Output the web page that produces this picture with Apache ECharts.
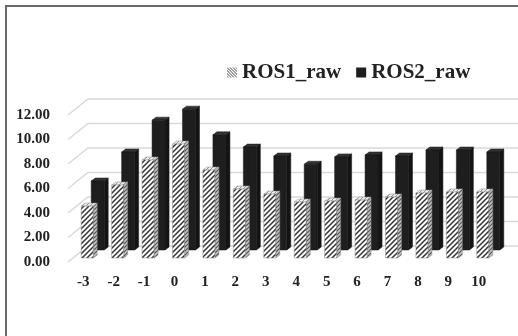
<!DOCTYPE html>
<html>
<head>
<meta charset="utf-8">
<script src="https://cdn.jsdelivr.net/npm/echarts@6/dist/echarts.min.js"></script>
<style>
  html, body { margin: 0; padding: 0; background: #fff; }
  #chart { width: 518px; height: 336px; }
</style>
</head>
<body>
<div id="chart"></div>
<script>
// Data
const categories = ['-3', '-2', '-1', '0', '1', '2', '3', '4', '5', '6', '7', '8', '9', '10'];
const ros1Raw = [4.24, 5.96, 8.0, 9.3, 7.18, 5.63, 5.22, 4.57, 4.65, 4.73, 4.98, 5.3, 5.39, 5.39];
const ros2Raw = [5.63, 8.0, 10.6, 11.5, 9.4, 8.4, 7.67, 7.0, 7.6, 7.76, 7.67, 8.16, 8.16, 8.0];
const yTicks = [0, 2, 4, 6, 8, 10, 12];

// Oblique depth of the plot box (back wall offset from the front edge)
const WALL_DX = 20, WALL_DY = -16;
const FONT = '"Liberation Serif", "Times New Roman", serif';

// Diagonal hatch tile
function hatch(dir, bg, fg, size, lw) {
  const c = document.createElement('canvas');
  c.width = size; c.height = size;
  const g = c.getContext('2d');
  g.fillStyle = bg; g.fillRect(0, 0, size, size);
  g.strokeStyle = fg; g.lineWidth = lw;
  g.beginPath();
  if (dir === '/') {
    g.moveTo(-1, size + 1); g.lineTo(size + 1, -1);
    g.moveTo(-1, 1); g.lineTo(1, -1);
    g.moveTo(size - 1, size + 1); g.lineTo(size + 1, size - 1);
  } else {
    g.moveTo(-1, -1); g.lineTo(size + 1, size + 1);
    g.moveTo(size - 1, -1); g.lineTo(size + 1, 1);
    g.moveTo(-1, size - 1); g.lineTo(1, size + 1);
  }
  g.stroke();
  return c;
}
const frontHatch = { image: hatch('/', '#ffffff', '#333333', 5, 1.5), repeat: 'repeat' };
const sideHatch = { image: hatch('/', '#c4c4c4', '#555555', 4, 1.2), repeat: 'repeat' };
const topHatch = { image: hatch('/', '#ededed', '#9a9a9a', 4, 1), repeat: 'repeat' };
const legendHatch = { image: hatch('\\', '#ffffff', '#444444', 3, 1), repeat: 'repeat' };

// 3-D column drawn at a given depth (0 = front edge, 1 = back wall)
function barRenderer(depth, w, faces) {
  return function (params, api) {
    const i = api.value(0);
    const base = api.coord([i, 0]);
    const top = api.coord([i, api.value(1)]);
    const sx = WALL_DX * depth, sy = WALL_DY * depth;
    const ddx = 4, ddy = -3;
    const x0 = base[0] - 7 + sx, x1 = x0 + w;
    const yb = base[1] + sy, yt = top[1] + sy;
    return {
      type: 'group',
      children: [
        { type: 'polygon', shape: { points: [[x1, yb], [x1, yt], [x1 + ddx, yt + ddy], [x1 + ddx, yb + ddy]] },
          style: { fill: faces.side, stroke: faces.edge, lineWidth: 0.5 } },
        { type: 'polygon', shape: { points: [[x0, yt], [x1, yt], [x1 + ddx, yt + ddy], [x0 + ddx, yt + ddy]] },
          style: { fill: faces.top, stroke: faces.edge, lineWidth: 0.5 } },
        { type: 'rect', shape: { x: x0, y: yt, width: w, height: yb - yt },
          style: { fill: faces.front, stroke: faces.edge, lineWidth: 0.5 } }
      ]
    };
  };
}

const chart = echarts.init(document.getElementById('chart'), null, { renderer: 'canvas' });
chart.setOption({
  animation: false,
  backgroundColor: '#ffffff',
  graphic: [{
    type: 'rect', z: -10,
    shape: { x: 6, y: 6, width: 540, height: 360 },
    style: { fill: '#ffffff', stroke: '#6a6a6a', lineWidth: 2 }
  }],
  legend: {
    top: 57, left: 222,
    icon: 'rect',
    itemWidth: 10, itemHeight: 10, itemGap: 15,
    textStyle: { fontFamily: FONT, fontWeight: 'bold', fontSize: 21, color: '#222' },
    data: [
      { name: 'ROS1_raw', itemStyle: { color: legendHatch, borderWidth: 0 } },
      { name: 'ROS2_raw', itemStyle: { color: '#1e1e1e' } }
    ]
  },
  grid: { left: 68, right: 24, top: 115, bottom: 74 },
  xAxis: {
    type: 'category',
    data: categories,
    axisLine: { show: false },
    axisTick: { show: false },
    axisLabel: { margin: 13, fontFamily: FONT, fontWeight: 'bold', fontSize: 15, color: '#222' }
  },
  yAxis: {
    type: 'value', min: 0, max: 12, interval: 2,
    splitLine: { show: false },
    axisLine: { show: false },
    axisTick: { show: false },
    axisLabel: { margin: 18, formatter: v => v.toFixed(2), fontFamily: FONT, fontWeight: 'bold', fontSize: 15, color: '#222' }
  },
  series: [
    {
      // back wall gridlines with the slanted side-wall segments
      type: 'custom', name: 'wall', silent: true, clip: false,
      data: yTicks.map(v => [0, v]),
      renderItem: function (params, api) {
        const p = api.coord([0, api.value(1)]);
        const cs = params.coordSys;
        return {
          type: 'polyline',
          shape: { points: [[cs.x, p[1]], [cs.x + WALL_DX, p[1] + WALL_DY], [518, p[1] + WALL_DY]] },
          style: { stroke: '#d9d9d9', lineWidth: 1.5, fill: null }
        };
      }
    },
    {
      type: 'custom', name: 'ROS2_raw', clip: false,
      itemStyle: { color: '#1e1e1e' },
      data: ros2Raw.map((v, i) => [i, v]),
      renderItem: barRenderer(0.75, 13, { front: '#1e1e1e', side: '#141414', top: '#333333', edge: '#141414' })
    },
    {
      type: 'custom', name: 'ROS1_raw', clip: false,
      itemStyle: { color: legendHatch },
      data: ros1Raw.map((v, i) => [i, v]),
      renderItem: barRenderer(0.25, 12, { front: frontHatch, side: sideHatch, top: topHatch, edge: '#8a8a8a' })
    }
  ]
});
</script>
</body>
</html>
